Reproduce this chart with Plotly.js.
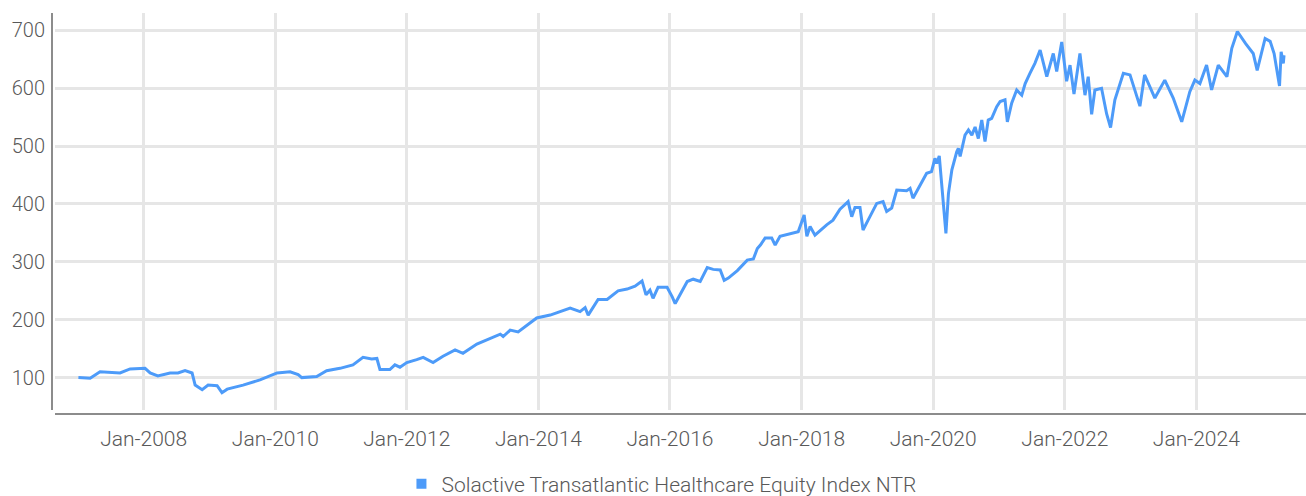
<!DOCTYPE html>
<html>
<head>
<meta charset="utf-8">
<script src="https://cdn.plot.ly/plotly-3.0.1.min.js"></script>
<style>html,body{margin:0;padding:0;background:#fff;}#chart{width:1306px;height:496px;}</style>
</head>
<body>
<div id="chart"></div>
<script>
const seriesName = "Solactive Transatlantic Healthcare Equity Index NTR";
const dates = [
"2007-01-04","2007-03-10","2007-05-04","2007-08-23","2007-10-18","2008-01-09","2008-02-06","2008-03-20","2008-05-27","2008-07-10",
"2008-08-18","2008-09-26","2008-10-13","2008-11-21","2008-12-24","2009-02-12","2009-03-11","2009-04-09","2009-07-06","2009-10-08",
"2010-01-11","2010-03-24","2010-05-08","2010-05-28","2010-08-19","2010-10-13","2010-12-26","2011-03-08","2011-05-03","2011-06-20",
"2011-07-19","2011-08-05","2011-09-29","2011-10-27","2011-11-24","2012-01-01","2012-02-25","2012-04-01","2012-05-26","2012-07-20",
"2012-09-25","2012-11-08","2013-01-24","2013-04-08","2013-06-03","2013-06-19","2013-07-28","2013-09-10","2013-11-16","2013-12-22",
"2014-03-07","2014-06-26","2014-08-20","2014-09-17","2014-10-04","2014-11-28","2015-01-17","2015-03-19","2015-05-08","2015-06-21",
"2015-07-30","2015-08-21","2015-09-12","2015-09-29","2015-10-27","2015-12-16","2016-01-13","2016-01-30","2016-04-06","2016-05-09",
"2016-06-17","2016-07-26","2016-08-28","2016-10-06","2016-10-28","2016-11-20","2017-01-09","2017-03-05","2017-04-08","2017-04-30",
"2017-05-17","2017-06-12","2017-07-19","2017-08-07","2017-09-03","2017-10-29","2017-12-13","2018-01-15","2018-01-30","2018-02-17",
"2018-03-16","2018-05-20","2018-06-24","2018-08-02","2018-09-16","2018-10-06","2018-10-24","2018-11-21","2018-12-08","2019-01-05",
"2019-02-22","2019-03-29","2019-04-18","2019-05-16","2019-06-13","2019-08-07","2019-08-26","2019-09-11","2019-10-20","2019-11-26",
"2019-12-23","2020-01-11","2020-01-21","2020-02-04","2020-02-17","2020-03-12","2020-03-26","2020-04-14","2020-05-11","2020-05-20",
"2020-05-30","2020-06-26","2020-07-15","2020-08-03","2020-08-21","2020-09-08","2020-09-27","2020-10-15","2020-11-02","2020-11-21",
"2020-12-19","2021-01-07","2021-02-03","2021-02-16","2021-03-12","2021-04-09","2021-05-07","2021-05-26","2021-06-22","2021-07-19",
"2021-08-17","2021-09-23","2021-10-29","2021-11-17","2021-12-15","2022-01-11","2022-01-30","2022-02-21","2022-03-26","2022-04-23",
"2022-05-11","2022-05-30","2022-06-17","2022-07-24","2022-08-21","2022-09-12","2022-10-06","2022-11-22","2022-12-29","2023-02-22",
"2023-03-20","2023-05-16","2023-07-10","2023-08-26","2023-10-12","2023-11-26","2023-12-24","2024-01-21","2024-02-27","2024-03-26",
"2024-05-02","2024-06-19","2024-07-16","2024-08-16","2024-10-01","2024-11-12","2024-12-04","2025-01-17","2025-02-14","2025-03-08",
"2025-04-07","2025-04-16","2025-04-28","2025-05-02"
];
const values = [
100,99,110,108,115,116,108,103,108,108,
112,108,87,79,87,86,74,80,87,96,
108,110,105,100,102,112,116,122,135,132,
133,114,114,122,118,126,131,135,126,137,
148,142,158,168,175,171,182,179,195,203,
208,220,214,221,208,235,235,250,253,258,
267,243,251,237,256,256,240,228,266,270,
266,290,287,286,268,272,285,303,305,323,
329,341,341,329,344,349,352,381,344,361,
346,364,372,391,404,378,394,394,355,372,
401,404,387,393,424,423,427,410,433,453,
456,479,470,483,436,349,418,459,490,496,
482,519,528,519,533,513,545,508,545,548,
568,577,580,542,574,597,588,608,626,643,
666,620,660,629,680,612,640,590,660,588,
620,555,597,600,556,532,580,626,623,569,
623,583,614,583,542,594,614,608,640,597,
640,620,669,698,677,660,631,686,681,660,
604,663,643,657
];
const yTicks = [100,200,300,400,500,600,700];

const lineColor = "#4d9bf9";
const textColor = "#595959";
const fontFamily = "Roboto, 'Liberation Sans', sans-serif";

const traces = [
  {x: dates, y: values, type: "scatter", mode: "lines", name: seriesName,
   line: {color: lineColor, width: 3}, showlegend: false, hoverinfo: "x+y"},
  {x: [null], y: [null], type: "scatter", mode: "markers", name: seriesName,
   marker: {symbol: "square", size: 10, color: lineColor}, showlegend: true}
];

const layout = {
  width: 1306, height: 496,
  margin: {l: 52, r: 0, t: 13, b: 82, pad: 0, autoexpand: false},
  paper_bgcolor: "#fff", plot_bgcolor: "#fff",
  font: {family: fontFamily, size: 20, color: textColor, weight: 300},
  xaxis: {
    type: "date",
    domain: [3/1254, 1],
    range: ["2006-08-27", "2025-09-01"],
    tick0: "2008-01-01", dtick: "M24", tickformat: "%b-%Y",
    showgrid: true, gridcolor: "#e6e6e6", gridwidth: 2.5,
    showline: true, linecolor: "#8c8c8c", linewidth: 2,
    ticks: "", ticklabelstandoff: 6,
    anchor: "free", position: 0,
    zeroline: false, automargin: false,
    tickfont: {family: fontFamily, size: 21, color: textColor, weight: 300}
  },
  yaxis: {
    domain: [4/401, 1],
    range: [44, 730],
    tickvals: yTicks,
    showgrid: true, gridcolor: "#e6e6e6", gridwidth: 2.5,
    showline: true, linecolor: "#8c8c8c", linewidth: 2,
    ticks: "", ticklabelstandoff: 2,
    anchor: "free", position: 0,
    zeroline: false, automargin: false,
    tickfont: {family: fontFamily, size: 20, color: textColor, weight: 300}
  },
  showlegend: true,
  legend: {orientation: "h", x: 0.486, xanchor: "center", y: -0.1746, yanchor: "middle",
           font: {family: fontFamily, size: 21, color: textColor, weight: 300}, itemwidth: 30,
           bgcolor: "rgba(0,0,0,0)"}
};

Plotly.newPlot("chart", traces, layout, {displayModeBar: false, responsive: false});
</script>
</body>
</html>
